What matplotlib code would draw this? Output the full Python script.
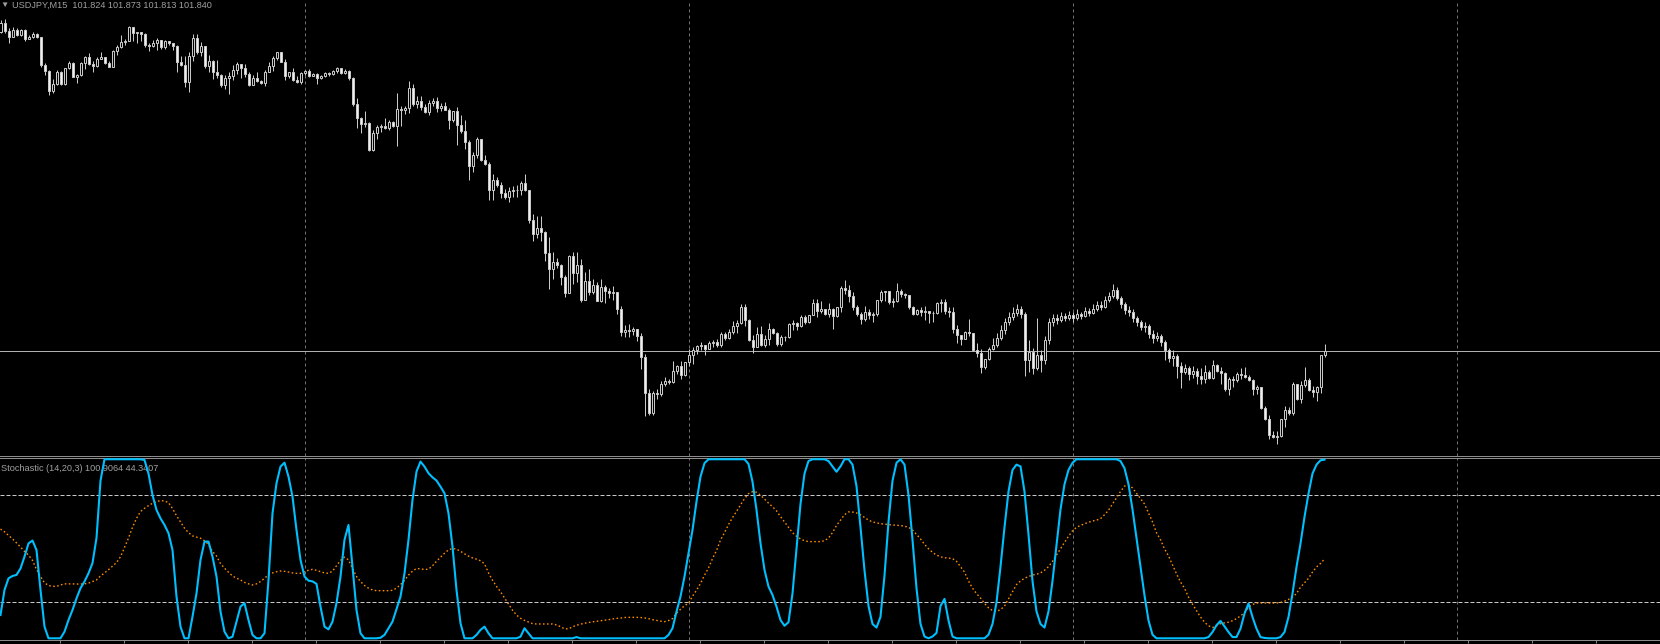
import numpy as np
import matplotlib.pyplot as plt

# Velas USDJPY M15 (la apertura de cada vela es el cierre anterior)
first_open = 103.277
closes = [
    103.318, 103.282, 103.255, 103.286, 103.264, 103.286, 103.246, 103.255, 103.268, 103.255,
    103.129, 103.102, 103.012, 103.043, 103.097, 103.043, 103.115, 103.138, 103.075, 103.084,
    103.138, 103.165, 103.133, 103.124, 103.156, 103.165, 103.138, 103.120, 103.192, 103.210,
    103.232, 103.237, 103.300, 103.272, 103.277, 103.268, 103.219, 103.214, 103.228, 103.241,
    103.210, 103.237, 103.228, 103.214, 103.142, 103.129, 103.052, 103.169, 103.250, 103.187,
    103.214, 103.124, 103.147, 103.097, 103.084, 103.039, 103.070, 103.079, 103.106, 103.133,
    103.115, 103.088, 103.039, 103.070, 103.057, 103.048, 103.097, 103.124, 103.160, 103.187,
    103.142, 103.079, 103.097, 103.061, 103.052, 103.093, 103.102, 103.079, 103.088, 103.070,
    103.079, 103.093, 103.088, 103.102, 103.115, 103.093, 103.102, 103.070, 102.953, 102.890,
    102.863, 102.868, 102.746, 102.823, 102.850, 102.854, 102.845, 102.872, 102.854, 102.931,
    102.926, 102.935, 103.025, 102.953, 102.967, 102.940, 102.917, 102.958, 102.967, 102.935,
    102.944, 102.926, 102.881, 102.922, 102.859, 102.832, 102.782, 102.674, 102.724, 102.796,
    102.701, 102.683, 102.566, 102.611, 102.589, 102.553, 102.535, 102.562, 102.566, 102.564,
    102.598, 102.566, 102.431, 102.368, 102.395, 102.377, 102.283, 102.211, 102.242, 102.229,
    102.175, 102.103, 102.269, 102.193, 102.229, 102.071, 102.157, 102.107, 102.139, 102.067,
    102.130, 102.112, 102.103, 102.107, 102.031, 101.927, 101.936, 101.932, 101.941, 101.909,
    101.815, 101.653, 101.563, 101.653, 101.648, 101.693, 101.707, 101.702, 101.752, 101.774,
    101.734, 101.792, 101.824, 101.846, 101.864, 101.869, 101.851, 101.878, 101.882, 101.869,
    101.918, 101.900, 101.927, 101.954, 101.968, 102.040, 101.981, 101.891, 101.860, 101.918,
    101.869, 101.896, 101.941, 101.923, 101.873, 101.905, 101.905, 101.963, 101.968, 101.954,
    101.995, 101.972, 102.004, 102.058, 102.022, 102.031, 102.008, 102.031, 101.999, 102.040,
    102.125, 102.116, 102.089, 102.040, 102.008, 101.986, 102.017, 102.004, 102.008, 102.071,
    102.107, 102.112, 102.062, 102.067, 102.112, 102.098, 102.094, 102.040, 102.008, 102.026,
    102.017, 102.022, 102.013, 102.013, 102.058, 102.062, 102.022, 102.017, 101.941, 101.914,
    101.896, 101.927, 101.923, 101.846, 101.833, 101.770, 101.806, 101.851, 101.869, 101.900,
    101.936, 101.972, 101.995, 102.013, 102.031, 102.008, 101.801, 101.837, 101.765, 101.824,
    101.801, 101.891, 101.972, 101.990, 101.981, 101.999, 101.990, 102.004, 101.990, 102.008,
    101.999, 102.022, 102.013, 102.031, 102.049, 102.040, 102.071, 102.089, 102.116, 102.080,
    102.053, 102.026, 102.017, 101.990, 101.972, 101.950, 101.954, 101.918, 101.900, 101.909,
    101.882, 101.846, 101.810, 101.819, 101.774, 101.747, 101.765, 101.738, 101.752, 101.729,
    101.716, 101.747, 101.720, 101.779, 101.752, 101.743, 101.671, 101.716, 101.711, 101.738,
    101.734, 101.725, 101.711, 101.671, 101.680, 101.585, 101.536, 101.464, 101.455, 101.461,
    101.536, 101.576, 101.563, 101.693, 101.626, 101.689, 101.711, 101.666, 101.657, 101.680,
    101.824, 101.840,
]
highs = [
    103.331, 103.336, 103.295, 103.300, 103.295, 103.291, 103.291, 103.264, 103.277, 103.272,
    103.255, 103.138, 103.106, 103.066, 103.106, 103.102, 103.115, 103.147, 103.142, 103.088,
    103.142, 103.169, 103.183, 103.147, 103.165, 103.187, 103.165, 103.147, 103.196, 103.219,
    103.264, 103.246, 103.304, 103.300, 103.277, 103.277, 103.272, 103.228, 103.241, 103.250,
    103.241, 103.241, 103.237, 103.228, 103.219, 103.169, 103.169, 103.187, 103.268, 103.268,
    103.232, 103.214, 103.174, 103.151, 103.151, 103.088, 103.084, 103.097, 103.129, 103.142,
    103.133, 103.133, 103.097, 103.084, 103.097, 103.061, 103.106, 103.142, 103.169, 103.187,
    103.183, 103.156, 103.097, 103.115, 103.079, 103.097, 103.106, 103.111, 103.093, 103.093,
    103.084, 103.097, 103.097, 103.106, 103.120, 103.115, 103.111, 103.106, 103.075, 102.980,
    102.895, 102.922, 102.872, 102.836, 102.859, 102.863, 102.890, 102.881, 102.877, 103.003,
    102.944, 102.944, 103.057, 103.043, 102.989, 102.989, 102.953, 102.971, 102.980, 102.985,
    102.958, 102.962, 102.935, 102.922, 102.940, 102.904, 102.881, 102.791, 102.737, 102.805,
    102.796, 102.724, 102.692, 102.638, 102.625, 102.602, 102.571, 102.580, 102.584, 102.589,
    102.607, 102.638, 102.566, 102.458, 102.449, 102.449, 102.382, 102.355, 102.287, 102.260,
    102.233, 102.184, 102.274, 102.287, 102.287, 102.256, 102.197, 102.211, 102.166, 102.152,
    102.166, 102.139, 102.125, 102.134, 102.107, 102.044, 101.959, 101.963, 101.950, 101.941,
    101.923, 101.828, 101.671, 101.662, 101.671, 101.707, 101.725, 101.716, 101.797, 101.779,
    101.797, 101.792, 101.851, 101.860, 101.869, 101.882, 101.869, 101.887, 101.891, 101.896,
    101.927, 101.927, 101.941, 101.977, 101.981, 102.053, 102.053, 101.986, 101.914, 101.950,
    101.954, 101.914, 101.968, 101.945, 101.927, 101.914, 101.909, 101.968, 101.981, 101.972,
    102.004, 102.004, 102.004, 102.076, 102.076, 102.067, 102.031, 102.058, 102.035, 102.040,
    102.134, 102.161, 102.139, 102.107, 102.049, 102.017, 102.044, 102.031, 102.017, 102.071,
    102.116, 102.112, 102.112, 102.080, 102.148, 102.121, 102.103, 102.094, 102.044, 102.031,
    102.040, 102.044, 102.022, 102.022, 102.062, 102.076, 102.076, 102.040, 102.040, 101.959,
    101.914, 101.932, 101.986, 101.923, 101.878, 101.851, 101.806, 101.860, 101.900, 101.923,
    101.959, 101.990, 102.017, 102.040, 102.053, 102.044, 102.017, 101.891, 101.855, 101.990,
    101.846, 101.909, 101.990, 102.008, 102.008, 102.017, 102.013, 102.022, 102.017, 102.031,
    102.017, 102.040, 102.035, 102.053, 102.067, 102.067, 102.089, 102.107, 102.143, 102.130,
    102.089, 102.062, 102.044, 102.031, 101.999, 101.981, 101.972, 101.963, 101.936, 101.927,
    101.918, 101.891, 101.855, 101.846, 101.828, 101.792, 101.783, 101.774, 101.774, 101.765,
    101.765, 101.779, 101.756, 101.801, 101.783, 101.770, 101.747, 101.725, 101.729, 101.747,
    101.765, 101.770, 101.734, 101.716, 101.689, 101.680, 101.594, 101.554, 101.482, 101.482,
    101.536, 101.594, 101.590, 101.702, 101.693, 101.707, 101.770, 101.720, 101.684, 101.684,
    101.824, 101.873,
]
lows = [
    103.272, 103.272, 103.228, 103.255, 103.259, 103.259, 103.237, 103.246, 103.250, 103.250,
    103.120, 103.084, 102.994, 103.003, 103.039, 103.039, 103.039, 103.111, 103.075, 103.048,
    103.079, 103.111, 103.129, 103.097, 103.120, 103.156, 103.133, 103.120, 103.120, 103.174,
    103.205, 103.219, 103.237, 103.237, 103.228, 103.237, 103.210, 103.192, 103.210, 103.196,
    103.201, 103.201, 103.219, 103.196, 103.097, 103.124, 103.030, 103.007, 103.147, 103.178,
    103.169, 103.115, 103.097, 103.066, 103.070, 103.030, 103.021, 102.998, 103.061, 103.088,
    103.070, 103.075, 103.034, 103.043, 103.052, 103.043, 103.034, 103.097, 103.102, 103.151,
    103.142, 103.061, 103.070, 103.057, 103.048, 103.043, 103.084, 103.075, 103.079, 103.043,
    103.066, 103.075, 103.079, 103.084, 103.093, 103.088, 103.088, 103.061, 102.944, 102.845,
    102.823, 102.850, 102.742, 102.742, 102.796, 102.827, 102.841, 102.836, 102.850, 102.764,
    102.854, 102.908, 102.913, 102.944, 102.935, 102.926, 102.913, 102.904, 102.944, 102.917,
    102.922, 102.926, 102.841, 102.872, 102.769, 102.823, 102.751, 102.611, 102.647, 102.710,
    102.697, 102.679, 102.521, 102.521, 102.580, 102.530, 102.526, 102.512, 102.535, 102.535,
    102.544, 102.562, 102.418, 102.337, 102.350, 102.337, 102.247, 102.121, 102.166, 102.215,
    102.139, 102.085, 102.103, 102.143, 102.152, 102.062, 102.071, 102.094, 102.098, 102.067,
    102.062, 102.058, 102.080, 102.071, 102.008, 101.909, 101.905, 101.905, 101.914, 101.887,
    101.761, 101.549, 101.554, 101.554, 101.626, 101.639, 101.684, 101.693, 101.698, 101.738,
    101.716, 101.729, 101.774, 101.783, 101.828, 101.846, 101.824, 101.851, 101.860, 101.860,
    101.860, 101.891, 101.896, 101.918, 101.923, 101.963, 101.954, 101.887, 101.833, 101.860,
    101.864, 101.860, 101.869, 101.918, 101.864, 101.864, 101.887, 101.900, 101.936, 101.936,
    101.950, 101.963, 101.968, 102.004, 101.995, 102.013, 102.004, 101.995, 101.941, 101.995,
    102.017, 102.098, 102.062, 102.026, 101.999, 101.963, 101.977, 101.986, 101.972, 101.999,
    102.062, 102.067, 102.053, 102.040, 102.062, 102.085, 102.080, 102.031, 102.004, 102.004,
    101.999, 101.981, 101.968, 101.972, 102.008, 102.017, 102.008, 101.995, 101.923, 101.878,
    101.869, 101.896, 101.909, 101.842, 101.815, 101.743, 101.761, 101.801, 101.846, 101.860,
    101.891, 101.918, 101.959, 101.981, 101.999, 101.990, 101.729, 101.747, 101.738, 101.756,
    101.747, 101.783, 101.873, 101.954, 101.963, 101.972, 101.977, 101.981, 101.972, 101.981,
    101.986, 101.995, 101.999, 102.008, 102.022, 102.026, 102.035, 102.062, 102.080, 102.071,
    102.035, 102.008, 101.999, 101.972, 101.954, 101.936, 101.927, 101.900, 101.878, 101.887,
    101.864, 101.801, 101.792, 101.774, 101.720, 101.675, 101.738, 101.711, 101.720, 101.693,
    101.693, 101.698, 101.716, 101.716, 101.747, 101.693, 101.662, 101.644, 101.680, 101.702,
    101.716, 101.720, 101.707, 101.644, 101.648, 101.581, 101.531, 101.446, 101.450, 101.423,
    101.455, 101.500, 101.554, 101.554, 101.621, 101.608, 101.680, 101.662, 101.635, 101.617,
    101.653, 101.813,
]

# Estocástico (14,20,3): línea principal y señal
stoch_main = [
    13, 27, 33.5, 34.8, 35.4, 39, 45.6, 53, 54.6, 49.3,
    27, 6.5, 0, 0, 0, 0, 3.7, 10.2, 15.8, 22.3,
    28, 31.7, 36.3, 42, 56, 88, 100, 100, 100, 100,
    100, 100, 100, 100, 100, 100, 99.6, 92, 80, 71.7,
    67, 63.3, 58.7, 49.3, 23.3, 6.5, 0, 0, 12.1, 25.1,
    43.8, 54, 54, 45.6, 34.5, 14.9, 3.7, 0, 0.9, 9.3,
    17.7, 19.6, 10.2, 1.9, 0, 0, 2.8, 32.6, 69.8, 86.6,
    95.9, 98.1, 90.3, 79.1, 60.5, 43.8, 34.5, 32.2, 31.8, 30.4,
    17.7, 6.5, 5, 9.3, 19.6, 34.5, 55, 63.3, 40, 15.8,
    2.8, 0, 0, 0, 0, 0.3, 1.9, 5.6, 9.3, 16.3,
    23.3, 36.3, 55, 77.3, 93.1, 98.7, 95.9, 92.2, 89.9, 88.1,
    84.7, 81, 69.8, 51.2, 27, 8.4, 0, 0, 0, 1.9,
    4.7, 6.5, 2.8, 0, 0, 0, 0, 0, 0, 0,
    0.9, 5.6, 2.8, 0, 0, 0, 0, 0, 0, 0,
    0, 0, 0, 0, 0.7, 0, 0, 0, 0, 0,
    0, 0, 0, 0, 0, 0, 0, 0, 0, 0,
    0, 0, 0, 0, 0, 0, 0, 1.9, 5.6, 14.9,
    23.3, 34.5, 47.5, 60.5, 76.4, 90.3, 97.8, 100, 100, 100,
    100, 100, 100, 100, 100, 100, 100, 97.4, 87.5, 71.7,
    53.1, 38.2, 28.9, 24.2, 17.7, 10.2, 7, 9, 25, 50,
    75, 92, 99, 100, 100, 100, 100, 99, 96, 93,
    96, 100, 100, 97, 85, 62, 38, 18, 8, 6,
    12, 35, 65, 88, 98, 100, 97, 80, 55, 28,
    8, 1, 0, 1, 3, 18, 22, 10, 1, 0,
    0, 0, 0, 0, 0, 0, 0, 2, 8, 20,
    40, 62, 82, 94, 97, 96, 82, 58, 32, 15,
    8, 6, 15, 32, 52, 72, 86, 94, 98, 100,
    100, 100, 100, 100, 100, 100, 100, 100, 100, 100,
    99, 95, 86, 72, 56, 40, 24, 10, 2, 0,
    0, 0, 0, 0, 0, 0, 0, 0, 0, 0,
    0, 0, 0.7, 3.5, 7.3, 9.7, 6.7, 3.5, 0.7, 0.7,
    5.4, 13.8, 19.4, 11.9, 5.4, 0.7, 0.2, 0, 0, 0,
    0.7, 3.5, 11.9, 25, 39.8, 52.9, 67.8, 80.8, 92, 97,
    99.4, 99.8,
]
stoch_signal = [
    61, 59.5, 57.5, 55.5, 53.3, 51, 48.5, 46.5, 43.5, 38.5,
    34.5, 31, 29.5, 29, 29, 29.8, 30.4, 30.4, 30.4, 30.3,
    30.3, 30.4, 30.8, 31.7, 32.6, 34.8, 36.5, 38.3, 40.3, 42.3,
    45.5, 50.8, 56, 62, 67, 70.8, 72.6, 74.1, 75.4, 76.4,
    76.9, 76.7, 75.8, 72.5, 68.5, 65, 61.5, 59, 57.2, 56.5,
    55.9, 54.5, 52.4, 48.5, 46, 41.7, 39.2, 36.9, 34.8, 33.6,
    32.6, 31.2, 30.4, 29.8, 30.4, 31.7, 33.5, 35.5, 36.5, 37.2,
    37.6, 37.4, 37, 36.5, 36.3, 36.3, 37.2, 38, 38.5, 38,
    37.2, 36.5, 36.3, 37.5, 40.5, 43.5, 45.3, 43.8, 39, 34.5,
    31.7, 29.5, 28, 27, 26.6, 26.6, 26.6, 26.6, 26.8, 28,
    30, 32.3, 35.3, 37.5, 39, 38.8, 38.4, 38.6, 40.5, 43,
    45.3, 47.5, 49.4, 50.2, 49.8, 48.6, 47.2, 45.9, 44.9, 44.2,
    43.3, 41.6, 36.5, 32.4, 29, 26, 22.6, 19.2, 15.7, 13,
    11.2, 10, 9.1, 8.2, 8, 8, 8, 8, 8, 7.5,
    6.5, 5.3, 5.3, 6.4, 7.3, 7.9, 8.4, 8.8, 9.2, 9.5,
    9.8, 10.1, 10.4, 10.8, 11.1, 11.3, 11.6, 11.7, 11.7, 11.7,
    11.6, 11.4, 11, 10.4, 10, 9.6, 9.3, 9.9, 11, 14,
    16.2, 18.2, 19.6, 23.5, 26.8, 30.7, 35.2, 39.3, 44.5, 49,
    54.9, 59, 63.5, 67.4, 70.8, 74.5, 78, 80.8, 81.9, 81.6,
    79.9, 77.8, 75.5, 73.5, 71.2, 68, 65, 62, 59, 57,
    55.5, 54.5, 54, 54, 54, 54, 54.5, 56, 59, 63,
    66, 69, 70.6, 70.5, 70, 69, 67.5, 66, 65, 64.5,
    64, 63.8, 63.5, 63.3, 63.1, 63, 62.6, 62, 60.5, 58,
    55.5, 52.5, 50, 48, 46.5, 45.5, 45, 44.8, 44.5, 43,
    40, 37, 32, 28, 25, 22.5, 19.5, 17, 15.5, 15,
    16, 18, 22, 26, 30, 32, 33.5, 34.5, 35.3, 35.8,
    36.5, 38, 40, 43, 46.5, 50, 53.5, 57, 60, 62,
    63, 64, 64.8, 65.5, 66, 66.8, 69, 71.5, 75, 78.5,
    82, 85, 85.5, 84, 81, 78, 75, 70, 65, 59,
    55, 50, 46, 41, 36, 31.5, 28, 23, 19, 15.5,
    11.9, 9, 7, 6, 7, 8.2, 8.6, 9, 9.8, 11,
    12.5, 14.3, 17.3, 18.9, 19.7, 19.7, 19.7, 19.7, 19.7, 19.7,
    20, 20.7, 21.7, 23, 25, 28.5, 31, 33.5, 37, 39.8,
    41.8, 44.3,
]
stoch_levels = [20, 80]
day_breaks = [76, 172, 268, 364]  # inicio de cada día (índice de vela)
bid_price = 101.840

title_text = "USDJPY,M15  101.824 101.873 101.813 101.840"
stoch_text = "Stochastic (14,20,3) 100.9064 44.3407"

plt.rcParams['lines.scale_dashes'] = False
W, H = 1660, 644
px = 0.72  # 1 pixel en puntos a 100 dpi
gris_texto = '#a0a0a0'
gris_borde = '#8c8c8c'

fig = plt.figure(figsize=(W / 100, H / 100), dpi=100, facecolor='black')
ax = fig.add_axes([0, (H - 456) / H, 1, 456 / H], facecolor='black')
ax2 = fig.add_axes([0, (H - 639.5) / H, 1, (639.5 - 458) / H], facecolor='black')

# Velas
n = len(closes)
x = np.arange(n)
c = np.array(closes)
o = np.r_[first_open, c[:-1]]
hi = np.maximum(np.array(highs), np.maximum(o, c))
lo = np.minimum(np.array(lows), np.minimum(o, c))
alcista = c >= o
ax.vlines(x, lo, hi, color='#c8c8c8', lw=px, zorder=2)
ax.bar(x, np.abs(c - o), bottom=np.minimum(o, c), width=0.5,
       color=np.where(alcista, 'black', '#f0f0f0'), edgecolor='#c8c8c8',
       linewidth=px, zorder=3)

ax.axhline(bid_price, color='#b0b0b0', lw=px, zorder=1)
ax.set_xlim(-0.125, 414.875)
ax.set_ylim(103.421 - 0.0045 * 456, 103.421)

# Estocástico
xs = np.arange(len(stoch_main))
ax2.plot(np.arange(len(stoch_signal)), stoch_signal, color='#ff8c00', lw=1.0,
         dashes=(1.6 * px, 2.4 * px), zorder=3)
ax2.plot(xs, stoch_main, color='#00bfff', lw=1.5, zorder=4)
for lvl in stoch_levels:
    ax2.axhline(lvl, color='#c8c8c8', lw=px, dashes=(4 * px, 2 * px), zorder=1)
ax2.set_xlim(-0.125, 414.875)
ax2.set_ylim(-0.67, 100.7)

# Rejilla vertical de días
for a in (ax, ax2):
    for b in day_breaks:
        a.axvline(b, color='#707070', lw=px, dashes=(3 * px, 3 * px), zorder=0)
    a.set_yticks([])
    for lado in ('left', 'right'):
        a.spines[lado].set_visible(False)

ax.set_xticks([])
ax.spines['top'].set_visible(False)
ax.spines['bottom'].set_color(gris_borde)
ax.spines['bottom'].set_linewidth(px)
for lado in ('top', 'bottom'):
    ax2.spines[lado].set_color(gris_borde)
    ax2.spines[lado].set_linewidth(px)
ax2.set_xticks(np.arange(14.875, 415, 16))
ax2.tick_params(axis='x', direction='out', length=2.2, width=px,
                color=gris_borde, labelbottom=False)

# Textos
fuente = ['Liberation Sans', 'DejaVu Sans']
fig.text(0.5 / W, 1 - 6.5 / H, '\u25bc', fontsize=6, color=gris_texto,
         family=fuente, va='baseline')
fig.text(12 / W, 1 - 8 / H, title_text, fontsize=6.6, color=gris_texto,
         family=fuente, va='baseline')
ax2.text(1 / W, 1 - 471 / H, stoch_text, fontsize=6.6, color=gris_texto,
         family=fuente, va='baseline', transform=fig.transFigure, zorder=1)

fig.savefig('out.png', dpi=100, facecolor='black')
